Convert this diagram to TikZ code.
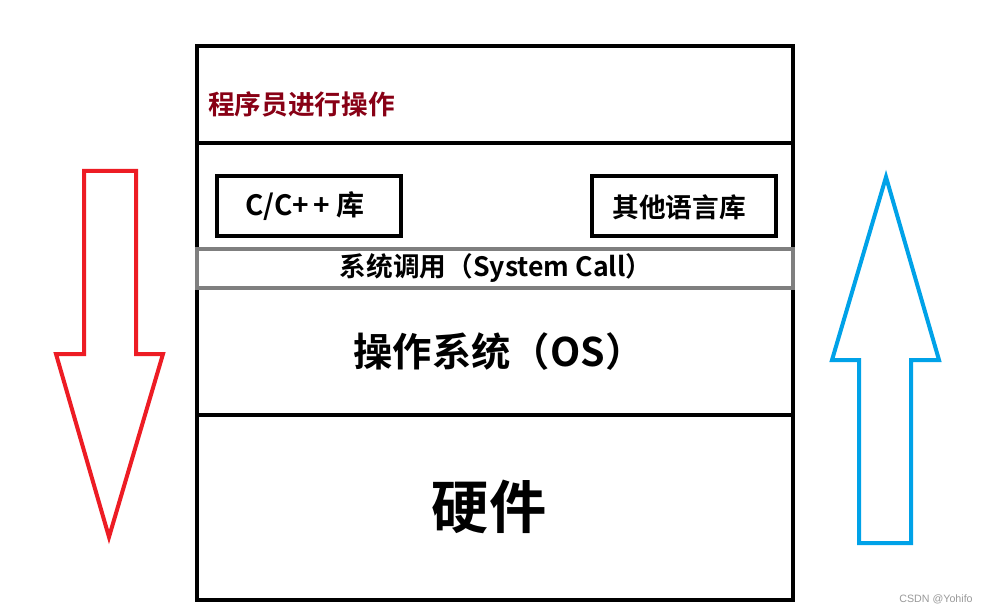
\documentclass[tikz,border=0pt]{standalone}
\usepackage{fontspec}
\setmainfont{Noto Sans CJK SC}[BoldFont={Noto Sans CJK SC Bold}]
\setsansfont{Liberation Sans}
\definecolor{darkred}{HTML}{880015}
\definecolor{arrowred}{HTML}{ED1C24}
\definecolor{arrowblue}{HTML}{00A2E8}
\definecolor{callgray}{HTML}{7F7F7F}
\tikzset{
  layerbox/.style={draw=black, line width=3pt},
  libbox/.style={draw=black, line width=3.3pt, inner sep=0pt},
  callbox/.style={draw=callgray, line width=3pt, fill=white},
  bigarrow/.style={line width=3pt, line join=miter},
  lbl/.style={font=\bfseries, inner sep=0pt}
}
\begin{document}
\begin{tikzpicture}[x=0.75pt, y=-0.75pt]
\useasboundingbox (0,0) rectangle (988,613);
\fill[white] (0,0) rectangle (988,613);
% outer frame
\draw[layerbox] (197,46) rectangle (793,600);
\coordinate (l1) at (197,143); \coordinate (r1) at (793,143);
\coordinate (l2) at (197,415); \coordinate (r2) at (793,415);
\draw[layerbox] (l1) -- (r1);
\draw[layerbox] (l2) -- (r2);
% library boxes
\node[libbox, minimum width=184*0.75pt, minimum height=60*0.75pt] (cpp) at (309,206) {};
\node[libbox, minimum width=184*0.75pt, minimum height=60*0.75pt] (other) at (684,206) {};
\node[lbl, font=\fontsize{21pt}{24pt}\bfseries] at (305,206) {C/C{+}\,{+} 库};
\node[lbl, font=\fontsize{20pt}{22pt}\bfseries] at (679,207) {其他语言库};
% system call
\draw[callbox] (197,249) rectangle (793,288);
\node[lbl, font=\fontsize{20pt}{22pt}\bfseries] (sc) at (496,268) {系统调用（System Call）};
% texts
\node[lbl, anchor=west, text=darkred, font=\fontsize{20pt}{22pt}\bfseries] (prog) at (208,104) {程序员进行操作};
\node[lbl, font=\fontsize{29.5pt}{33pt}\bfseries] (os) at (499,352) {操作系统（OS）};
\node[lbl, font=\fontsize{43pt}{46pt}\bfseries] (hw) at (489,507) {硬件};
% arrows
\draw[bigarrow, draw=arrowred] (84,171) -- (136,171) -- (136,354) -- (163,354) -- (109,537) -- (56,354) -- (84,354) -- cycle;
\draw[bigarrow, draw=arrowblue] (859,543) -- (911,543) -- (911,360) -- (939,360) -- (886,177) -- (832,360) -- (859,360) -- cycle;
% watermark
\node[inner sep=0pt, text=gray!80, font=\sffamily\fontsize{8pt}{9pt}\selectfont] (wm) at (936,599) {CSDN @Yohifo};
\end{tikzpicture}
\end{document}
